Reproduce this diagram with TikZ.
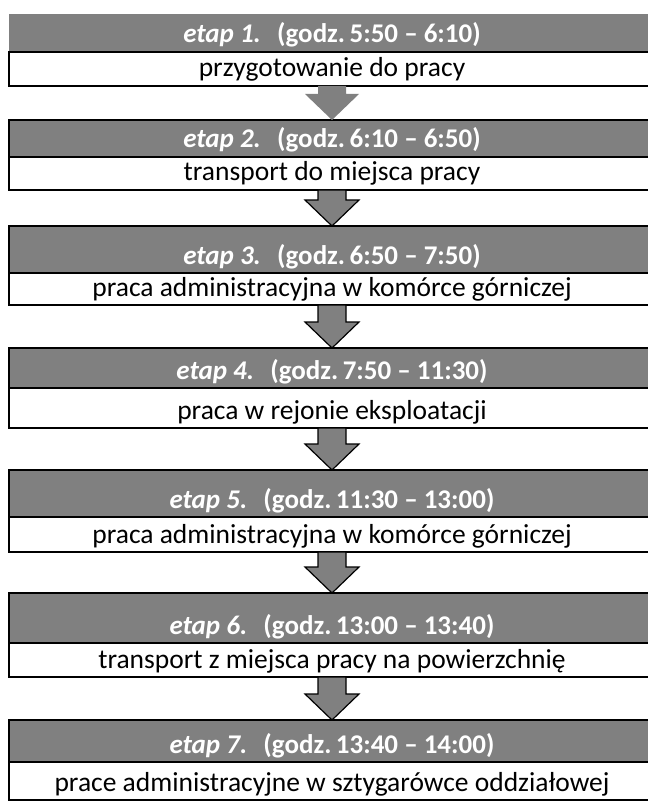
\documentclass[tikz,border=0pt]{standalone}
\usepackage{fontspec}
\setmainfont{Carlito}
\definecolor{headc}{HTML}{808080}
\definecolor{ink}{HTML}{000000}
\usetikzlibrary{positioning,calc}

\newcommand{\flowarrow}[3][]{%
  \draw[flow,#1] ($(#2.south)+(-14,0)$) -- ($(#3.north)+(-14,-26)$) -- ($(#3.north)+(-27,-26)$)
    -- (#3.north) -- ($(#3.north)+(27,-26)$) -- ($(#3.north)+(14,-26)$) -- ($(#2.south)+(14,0)$) -- cycle;}

\begin{document}
\begin{tikzpicture}[x=1pt,y=-1pt,every node/.style={font=\fontsize{27.5}{31}\selectfont}]
\tikzstyle{head}=[draw=ink,line width=1.4pt,fill=headc,text=white,font=\fontsize{27}{31}\selectfont\bfseries,minimum width=646pt,inner xsep=0pt,inner ysep=0pt,outer sep=0pt,text depth=9pt,anchor=north]
\tikzstyle{body}=[draw=ink,line width=1.4pt,fill=white,minimum width=646pt,inner xsep=0pt,inner ysep=0pt,outer sep=0pt,text depth=9pt]
\tikzstyle{flow}=[draw=ink,line width=1.2pt,fill=headc,line join=miter]
\useasboundingbox (0,0) rectangle (647,802);
% etapy
\node[head,draw=none,text height=29pt] (h1) at (332,14) {\textit{etap 1.}\hspace{0.6em}(godz.\,5:50 – 6:10)};
\node[body,text height=25pt,below=0pt of h1] (b1) {przygotowanie do pracy};
\node[head,text height=28pt] (h2) at (332,120) {\textit{etap 2.}\hspace{0.6em}(godz.\,6:10 – 6:50)};
\node[body,text height=24pt,below=0pt of h2] (b2) {transport do miejsca pracy};
\node[head,text height=38pt] (h3) at (332,226) {\textit{etap 3.}\hspace{0.6em}(godz.\,6:50 – 7:50)};
\node[body,text height=23pt,below=0pt of h3] (b3) {praca administracyjna w komórce górniczej};
\node[head,text height=31pt] (h4) at (332,348) {\textit{etap 4.}\hspace{0.6em}(godz.\,7:50 – 11:30)};
\node[body,text height=31pt,below=0pt of h4] (b4) {praca w rejonie eksploatacji};
\node[head,text height=38pt] (h5) at (332,470) {\textit{etap 5.}\hspace{0.6em}(godz.\,11:30 – 13:00)};
\node[body,text height=26pt,below=0pt of h5] (b5) {praca administracyjna w komórce górniczej};
\node[head,text height=41pt] (h6) at (332,593) {\textit{etap 6.}\hspace{0.6em}(godz.\,13:00 – 13:40)};
\node[body,text height=25pt,below=0pt of h6] (b6) {transport z miejsca pracy na powierzchnię};
\node[head,text height=33pt] (h7) at (332,720) {\textit{etap 7.}\hspace{0.6em}(godz.\,13:40 – 14:00)};
\node[body,text height=29pt,below=0pt of h7] (b7) {prace administracyjne w sztygarówce oddziałowej};
% strzalki
\flowarrow[draw=none]{b1}{h2}
\flowarrow{b2}{h3}
\flowarrow{b3}{h4}
\flowarrow{b4}{h5}
\flowarrow{b5}{h6}
\flowarrow{b6}{h7}
\end{tikzpicture}
\end{document}
